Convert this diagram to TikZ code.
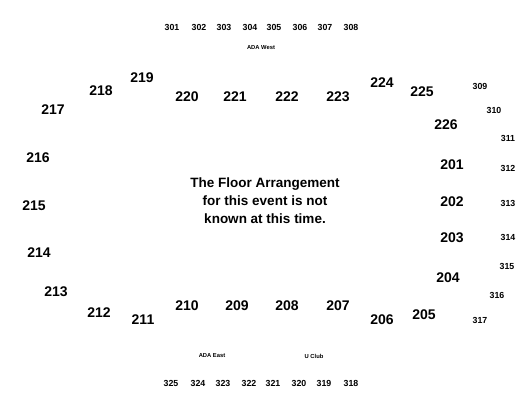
\documentclass[tikz,border=0pt]{standalone}
\usepackage{fontspec}
\setmainfont{Liberation Sans}
\usepackage{tikz}

\begin{document}
\begin{tikzpicture}[x=1pt, y=-1pt,
        lower/.style = {font=\fontsize{14}{16}\selectfont\bfseries, inner sep=0pt},
        upper/.style = {font=\fontsize{8.8}{10}\selectfont\bfseries, inner sep=0pt},
        tag/.style = {font=\fontsize{5.8}{7}\selectfont\bfseries, inner sep=0pt},
        note/.style = {font=\fontsize{13.5}{18}\selectfont\bfseries, align=center, inner sep=0pt}]
            \useasboundingbox (0,0) rectangle (525,400);

            % upper level, west side
            \foreach \n/\x in {301/172, 302/199, 303/224, 304/250, 305/274, 306/300, 307/325, 308/351}
                \node[upper] (s\n) at (\x,27) {\n};
            \node[tag] (adaW) at (261,48) {ADA West};

            % upper level, east side
            \node[upper] (s309) at (480,86) {309};
            \node[upper] (s310) at (494,110) {310};
            \node[upper] (s311) at (508,138) {311};
            \node[upper] (s312) at (508,168) {312};
            \node[upper] (s313) at (508,203) {313};
            \node[upper] (s314) at (508,237) {314};
            \node[upper] (s315) at (507,266) {315};
            \node[upper] (s316) at (497,295) {316};
            \node[upper] (s317) at (480,320) {317};

            % upper level, south side
            \foreach \n/\x in {325/171, 324/198, 323/223, 322/249, 321/273, 320/299, 319/324, 318/351}
                \node[upper] (s\n) at (\x,383) {\n};
            \node[tag] (adaE) at (212,356) {ADA East};
            \node[tag] (uclub) at (314,356) {U Club};

            % lower level
            \node[lower] (s201) at (452,165) {201};
            \node[lower] (s202) at (452,202) {202};
            \node[lower] (s203) at (452,238) {203};
            \node[lower] (s204) at (448,278) {204};
            \node[lower] (s205) at (424,315) {205};
            \node[lower] (s206) at (382,320) {206};
            \node[lower] (s207) at (338,306) {207};
            \node[lower] (s208) at (287,306) {208};
            \node[lower] (s209) at (237,306) {209};
            \node[lower] (s210) at (187,306) {210};
            \node[lower] (s211) at (143,320) {211};
            \node[lower] (s212) at (99,313) {212};
            \node[lower] (s213) at (56,292) {213};
            \node[lower] (s214) at (39,253) {214};
            \node[lower] (s215) at (34,206) {215};
            \node[lower] (s216) at (38,158) {216};
            \node[lower] (s217) at (53,110) {217};
            \node[lower] (s218) at (101,91) {218};
            \node[lower] (s219) at (142,78) {219};
            \node[lower] (s220) at (187,97) {220};
            \node[lower] (s221) at (235,97) {221};
            \node[lower] (s222) at (287,97) {222};
            \node[lower] (s223) at (338,97) {223};
            \node[lower] (s224) at (382,83) {224};
            \node[lower] (s225) at (422,92) {225};
            \node[lower] (s226) at (446,125) {226};

            \node[note] (floor) at (265,201) {The Floor Arrangement\\for this event is not\\known at this time.};
        \end{tikzpicture}
\end{document}
